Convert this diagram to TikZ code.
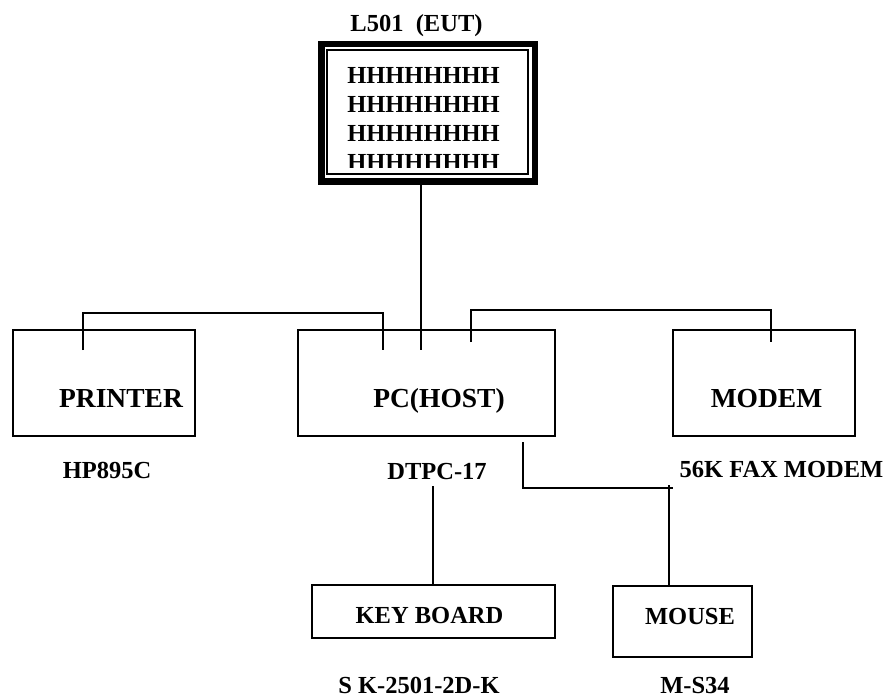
\documentclass[tikz,border=0pt]{standalone}
\usepackage{fontspec}
\setmainfont{Liberation Serif}
\usetikzlibrary{positioning}
\tikzset{
  unit/.style={rectangle, draw, line width=1.6pt, inner sep=0pt},
  unitlbl/.style={anchor=base, inner sep=0pt, font=\fontsize{27.5}{30}\selectfont\bfseries},
  modlbl/.style={anchor=base, inner sep=0pt, font=\fontsize{24.5}{28}\selectfont\bfseries},
  wire/.style={line width=1.6pt},
  every picture/.style={line cap=butt, line join=miter}
}

\begin{document}
\begin{tikzpicture}[x=1pt,y=-1pt]
  \useasboundingbox (0,0) rectangle (891,698);

  % monitor (EUT)
  \node[modlbl] (eut) at (416.5,32) {L501\ \ (EUT)};
  \node[draw, line width=6.5pt, minimum width=213.5pt, minimum height=137.5pt] (mon) at (428.25,112.75) {};
  \node[draw, line width=1.4pt, minimum width=201pt, minimum height=124pt] (scr) at (427.5,112) {};
  \begin{scope}
    \clip (328,51) rectangle (527,167);
    \foreach \r in {0,...,3}
      \node[modlbl] (row\r) at (423.5,83.5+29*\r) {HHHHHHHH};
  \end{scope}

  % units
  \node[unit, minimum width=182pt, minimum height=106pt] (prn) at (104,383) {};
  \node[unit, minimum width=257pt, minimum height=106pt] (pc) at (426.5,383) {};
  \node[unit, minimum width=182pt, minimum height=106pt] (mdm) at (764,383) {};
  \node[unit, minimum width=243pt, minimum height=53pt] (kbd) at (433.5,611.5) {};
  \node[unit, minimum width=139pt, minimum height=71pt] (mse) at (682.5,621.5) {};

  \node[unitlbl] (prnl) at (121,407) {PRINTER};
  \node[unitlbl] (pcl) at (439,407) {PC(HOST)};
  \node[unitlbl] (mdml) at (766.5,407) {MODEM};
  \node[modlbl] (kbdl) at (429.5,623) {KEY BOARD};
  \node[modlbl] (msel) at (690,624) {MOUSE};

  % model numbers
  \node[modlbl] (prnm) at (107,478) {HP895C};
  \node[modlbl] (pcm) at (437,479) {DTPC-17};
  \node[modlbl] (mdmm) at (781.5,477) {56K FAX MODEM};
  \node[modlbl] (kbdm) at (419,693) {S K-2501-2D-K};
  \node[modlbl] (msem) at (695,693) {M-S34};

  % cables
  \coordinate (pcA) at (383,350);
  \coordinate (pcB) at (421,350);
  \coordinate (pcC) at (471,342);
  \coordinate (pcD) at (523,442);
  \coordinate (prnA) at (83,350);
  \coordinate (mdmA) at (771,342);
  \coordinate (kbdA) at (433,486);
  \coordinate (mseA) at (669,485);

  \draw[wire] (mon.south -| pcB) -- (pcB);
  \draw[wire] (prnA) -- ++(0,-37) -| (pcA);
  \draw[wire] (pcC) -- ++(0,-32) -| (mdmA);
  \draw[wire] (pcD) |- ++(150,46);
  \draw[wire] (mseA) -- (mseA |- mse.north);
  \draw[wire] (kbdA) -- (kbdA |- kbd.north);
\end{tikzpicture}
\end{document}
